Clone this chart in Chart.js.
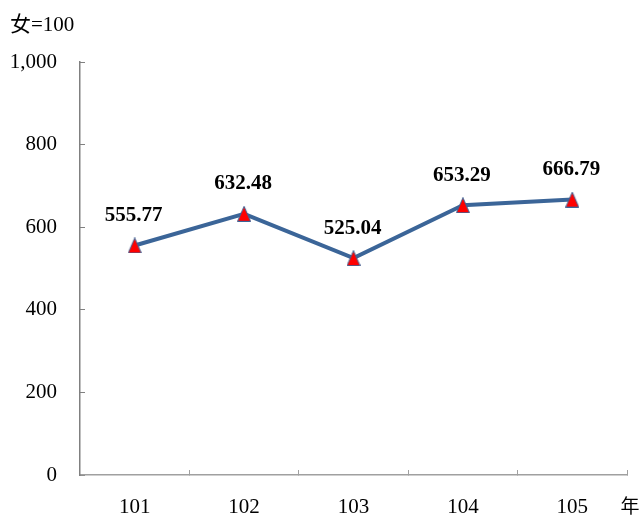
<!DOCTYPE html>
<html>
<head>
<meta charset="utf-8">
<script src="https://cdn.jsdelivr.net/npm/chart.js@4/dist/chart.umd.min.js"></script>
<style>
  html, body { margin: 0; padding: 0; background: #fff; }
  #chartRatio { display: block; }
</style>
</head>
<body>
<canvas id="chartRatio" width="640" height="518"></canvas>
<script>
// data
const years = ['101', '102', '103', '104', '105'];
const ratioValues = [555.77, 632.48, 525.04, 653.29, 666.79];
const yMin = 0;
const yMax = 1000;
const yStep = 200;

const SERIF = '"Liberation Serif", "Times New Roman", serif';

// red triangle marker with thin blue edge
function makeTriangle() {
  const c = document.createElement('canvas');
  c.width = 14; c.height = 16;
  const ctx = c.getContext('2d');
  ctx.beginPath();
  ctx.moveTo(7, 0.5);
  ctx.lineTo(13.5, 15.5);
  ctx.lineTo(0.5, 15.5);
  ctx.closePath();
  ctx.fillStyle = '#FF0000';
  ctx.fill();
  ctx.strokeStyle = '#3B6598';
  ctx.lineWidth = 1;
  ctx.stroke();
  return c;
}

// value labels above points + unit texts
const labelPlugin = {
  id: 'labelPlugin',
  afterDatasetsDraw(chart) {
    const ctx = chart.ctx;
    const meta = chart.getDatasetMeta(0);
    ctx.save();
    ctx.fillStyle = '#000';
    ctx.font = 'bold 21px ' + SERIF;
    ctx.textAlign = 'center';
    ctx.textBaseline = 'middle';
    meta.data.forEach((pt, i) => {
      ctx.fillText(ratioValues[i].toFixed(2), pt.x - 1, pt.y - 30);
    });

    ctx.font = '21px ' + SERIF + ', "Noto Sans CJK TC"';
    ctx.textAlign = 'left';
    ctx.textBaseline = 'alphabetic';
    ctx.fillText('女=100', 10, 31);

    ctx.font = '19px "Noto Sans CJK TC"';
    ctx.textAlign = 'center';
    ctx.textBaseline = 'middle';
    ctx.fillText('年', 630, 506);
    ctx.restore();
  }
};

new Chart(document.getElementById('chartRatio').getContext('2d'), {
  type: 'line',
  data: {
    labels: years,
    datasets: [{
      data: ratioValues,
      borderColor: '#3B6598',
      borderWidth: 4,
      tension: 0,
      fill: false,
      pointStyle: makeTriangle(),
      pointRadius: 7,
      pointHoverRadius: 7
    }]
  },
  options: {
    responsive: false,
    animation: false,
    devicePixelRatio: 1,
    layout: { padding: { left: 0, right: 13, top: 62, bottom: 0 } },
    plugins: {
      legend: { display: false },
      tooltip: { enabled: false }
    },
    scales: {
      x: {
        type: 'category',
        offset: true,
        afterFit: function(scale) { scale.height = 43; },
        grid: {
          offset: true,
          drawOnChartArea: false,
          drawTicks: true,
          tickLength: -5,
          color: '#a0a0a0',
          lineWidth: 1
        },
        border: { color: '#a0a0a0', width: 1.5 },
        ticks: {
          color: '#000',
          padding: 25,
          autoSkip: false,
          maxRotation: 0,
          font: { family: SERIF, size: 21 }
        }
      },
      y: {
        min: yMin,
        max: yMax,
        afterFit: function(scale) { scale.width = 80; },
        grid: {
          drawOnChartArea: false,
          drawTicks: true,
          tickLength: -5,
          color: '#808080',
          lineWidth: 1
        },
        border: { color: '#808080', width: 1.5 },
        ticks: {
          stepSize: yStep,
          autoSkip: false,
          color: '#000',
          padding: 28,
          font: { family: SERIF, size: 21 },
          callback: function(value) { return value.toLocaleString('en-US'); }
        }
      }
    }
  },
  plugins: [labelPlugin]
});
</script>
</body>
</html>
